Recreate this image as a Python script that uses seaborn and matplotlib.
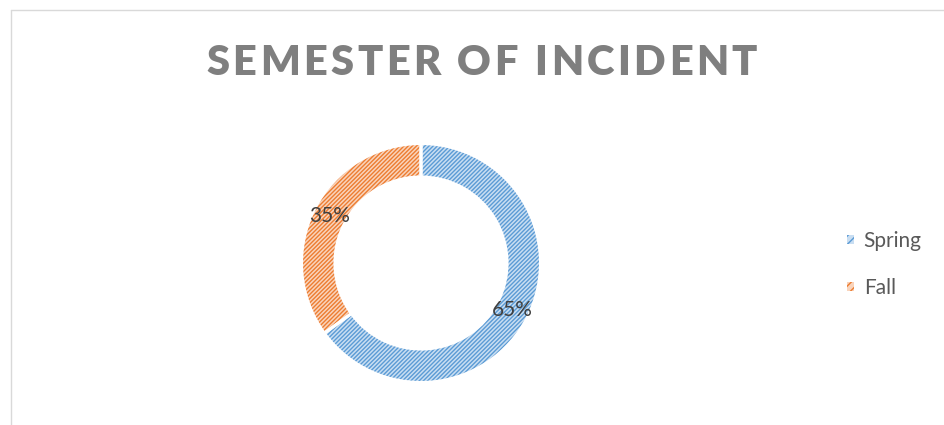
import matplotlib
matplotlib.use("Agg")
import matplotlib.pyplot as plt
import seaborn as sns
from matplotlib.patches import Patch
from matplotlib.lines import Line2D
from matplotlib.font_manager import FontProperties

# ---- data ----
categories = ["Spring", "Fall"]
values = [65, 35]
title_text = "SEMESTER OF INCIDENT"
line_colors = ["#5B9BD5", "#ED7D31"]
fill_colors = ["#C9DEF2", "#F9D4BC"]

sns.set_theme(style="white")
plt.rcParams['font.family'] = ['Lato', 'DejaVu Sans']
plt.rcParams['hatch.linewidth'] = 1.0

W, H = 945, 425
fig = plt.figure(figsize=(W / 100, H / 100), dpi=100)
fig.patch.set_facecolor("white")

# ---- donut ----
cx, cy, R = 421, 263, 119.5
ax = fig.add_axes([(cx - R) / W, (H - cy - R) / H, 2 * R / W, 2 * R / H])
ring_w = 0.28
hatch = "////////"
wedges, texts, autotexts = ax.pie(
    values, colors=fill_colors, startangle=90, counterclock=False,
    radius=1.0, autopct='%1.0f%%', pctdistance=0.86,
    wedgeprops=dict(width=ring_w, linewidth=0),
    textprops=dict(color="#404040", fontsize=15))
for w, lc in zip(wedges, line_colors):
    w.set_edgecolor(lc)
    w.set_linewidth(0)
    w.set_hatch(hatch)
# white separators on top
over, _ = ax.pie(values, colors=["none", "none"], startangle=90, counterclock=False,
                 radius=1.0, wedgeprops=dict(width=ring_w, linewidth=2.2, edgecolor="white"))
for a in autotexts:
    a.set_zorder(10)
ax.set_xlim(-1, 1)
ax.set_ylim(-1, 1)
ax.set_aspect("equal")
ax.axis("off")

# ---- title with letter spacing ----
renderer = fig.canvas.get_renderer()
prop = FontProperties(family=["Lato", "DejaVu Sans"], weight="heavy", size=30)
widths = []
for ch in title_text:
    if ch == " ":
        widths.append(None)
    else:
        wpx, hpx, d = renderer.get_text_width_height_descent(ch, prop, ismath=False)
        widths.append(wpx)
ink = sum(w for w in widths if w is not None)
n_letters = sum(1 for w in widths if w is not None)
n_spaces = title_text.count(" ")
S = 13.0
target = 551.0
gap = (target - ink - n_spaces * S) / (n_letters - 1)
x = 206.0
baseline_y = 1 - 75.0 / H
for ch, wpx in zip(title_text, widths):
    if wpx is None:
        x += S
        continue
    fig.text(x / W, baseline_y, ch, fontproperties=prop, color="#7F7F7F",
             ha="left", va="baseline")
    x += wpx + gap

# ---- legend ----
handles = [Patch(facecolor=fc, edgecolor=lc, hatch="////", linewidth=0)
           for fc, lc in zip(fill_colors, line_colors)]
leg = fig.legend(handles, categories, loc="center left",
                 bbox_to_anchor=(847 / W, 1 - 264.5 / H), frameon=False,
                 borderpad=0, borderaxespad=0, handlelength=0.35, handleheight=0.35,
                 handletextpad=0.45, labelspacing=1.3,
                 prop=FontProperties(family=["Lato", "DejaVu Sans"], size=15))
for t in leg.get_texts():
    t.set_color("#595959")

# ---- outer frame ----
fc = "#D9D9D9"
fig.add_artist(Line2D([10.5 / W, 10.5 / W], [0, 1 - 9.5 / H], color=fc, lw=1.0,
                      transform=fig.transFigure))
fig.add_artist(Line2D([10.5 / W, 1], [1 - 9.5 / H, 1 - 9.5 / H], color=fc, lw=1.0,
                      transform=fig.transFigure))

fig.savefig("out.png", dpi=100, facecolor="white")
